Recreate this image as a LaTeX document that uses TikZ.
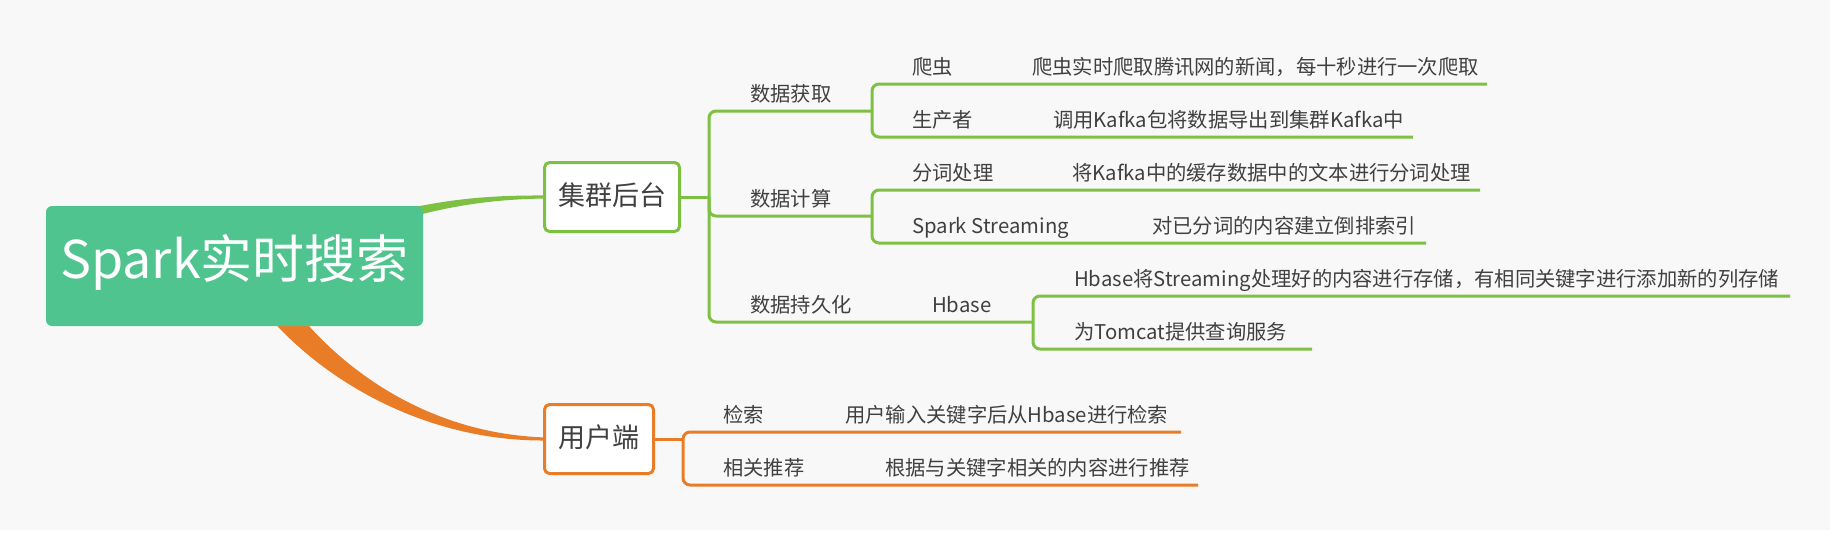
\documentclass[tikz,border=0pt]{standalone}
\usepackage{fontspec}
\setmainfont{Noto Sans CJK SC}
\definecolor{bg}{RGB}{248,248,248}
\definecolor{rootg}{RGB}{80,196,143}
\definecolor{lg}{RGB}{126,193,66}
\definecolor{lo}{RGB}{233,125,39}
\definecolor{txt}{RGB}{64,64,64}
\begin{document}
\begin{tikzpicture}[x=1pt,y=-1pt,
  lbl/.style={anchor=base west, inner sep=0pt, text=txt, font=\fontsize{20.3}{24}\selectfont},
  gline/.style={draw=lg, line width=3pt, rounded corners=7pt},
  oline/.style={draw=lo, line width=3pt, rounded corners=7pt},
  topic/.style={draw, line width=3pt, fill=white, rounded corners=5pt, inner sep=0pt, minimum height=69pt},
  topictxt/.style={text=txt, inner sep=0pt, font=\fontsize{27}{30}\selectfont},
  rootbox/.style={fill=rootg, rounded corners=6pt, inner sep=0pt, minimum width=377pt, minimum height=120pt},
  roottxt/.style={text=white, inner sep=0pt, font=\fontsize{52}{56}\selectfont}]
\fill[white] (0,0) rectangle (1842,533);
\fill[bg] (0,0) rectangle (1830,530);
\useasboundingbox (0,0) rectangle (1842,533);

% tapered connectors
\fill[lg] (330,229) .. controls (420,202) and (470,195) .. (546,195.5)
  -- (546,198.5) .. controls (470,199.5) and (420,212) .. (330,241) -- cycle;
\fill[lo] (289,302) .. controls (342,372) and (431,434) .. (546,437.5)
  -- (546,440.5) .. controls (429,441.5) and (328,384) .. (270,318) -- cycle;

% main nodes
\node[rootbox] (root) at (234.5,266) {};
\node[roottxt] (roottext) at ([yshift=4pt]root.center) {Spark实时搜索};
\node[topic, draw=lg, minimum width=135pt] (cluster) at (612,197) {};
\node[topictxt] (clustertext) at ([yshift=2pt]cluster.center) {集群后台};
\node[topic, draw=lo, minimum width=109pt] (user) at (599,439) {};
\node[topictxt] (usertext) at ([yshift=2pt]user.center) {用户端};

% labels
\node[lbl] (huoqu) at (750,101) {数据获取};
\node[lbl] (jisuan) at (750,206) {数据计算};
\node[lbl] (chijiu) at (750,312) {数据持久化};
\node[lbl] (hbase) at (932,312) {Hbase};
\node[lbl] (pachong) at (912,74) {爬虫};
\node[lbl] (pcd) at (1032,74) {爬虫实时爬取腾讯网的新闻，每十秒进行一次爬取};
\node[lbl] (scz) at (912,127) {生产者};
\node[lbl] (sczd) at (1053,127) {调用Kafka包将数据导出到集群Kafka中};
\node[lbl] (fc) at (912,180) {分词处理};
\node[lbl] (fcd) at (1072,180) {将Kafka中的缓存数据中的文本进行分词处理};
\node[lbl] (ss) at (912,233) {Spark Streaming};
\node[lbl] (ssd) at (1152,233) {对已分词的内容建立倒排索引};
\node[lbl] (hb1) at (1074,286) {Hbase将Streaming处理好的内容进行存储，有相同关键字进行添加新的列存储};
\node[lbl] (hb2) at (1074,339) {为Tomcat提供查询服务};
\node[lbl] (js) at (723,422) {检索};
\node[lbl] (jsd) at (845,422) {用户输入关键字后从Hbase进行检索};
\node[lbl] (tj) at (723,475) {相关推荐};
\node[lbl] (tjd) at (885,475) {根据与关键字相关的内容进行推荐};

% junctions
\coordinate (j0) at (709,197);
\coordinate (j1) at (872,111);
\coordinate (j2) at (872,216);
\coordinate (j3) at (1033,322);
\coordinate (j4) at (683,439);

% green brackets
\draw[gline] (cluster.east) -- (j0);
\draw[gline] (j0) |- (j1);
\draw[gline] (j0) |- (j2);
\draw[gline] (j0) |- (j3);
\draw[gline] (j1) |- (1487,84);
\draw[gline] (j1) |- (1413,137);
\draw[gline] (j2) |- (1480,190);
\draw[gline] (j2) |- (1426,243);
\draw[gline] (j3) |- (1790,296);
\draw[gline] (j3) |- (1312,349);

% orange brackets
\draw[oline] (user.east) -- (j4);
\draw[oline] (j4) |- (1181,432);
\draw[oline] (j4) |- (1198,485);
\end{tikzpicture}
\end{document}
